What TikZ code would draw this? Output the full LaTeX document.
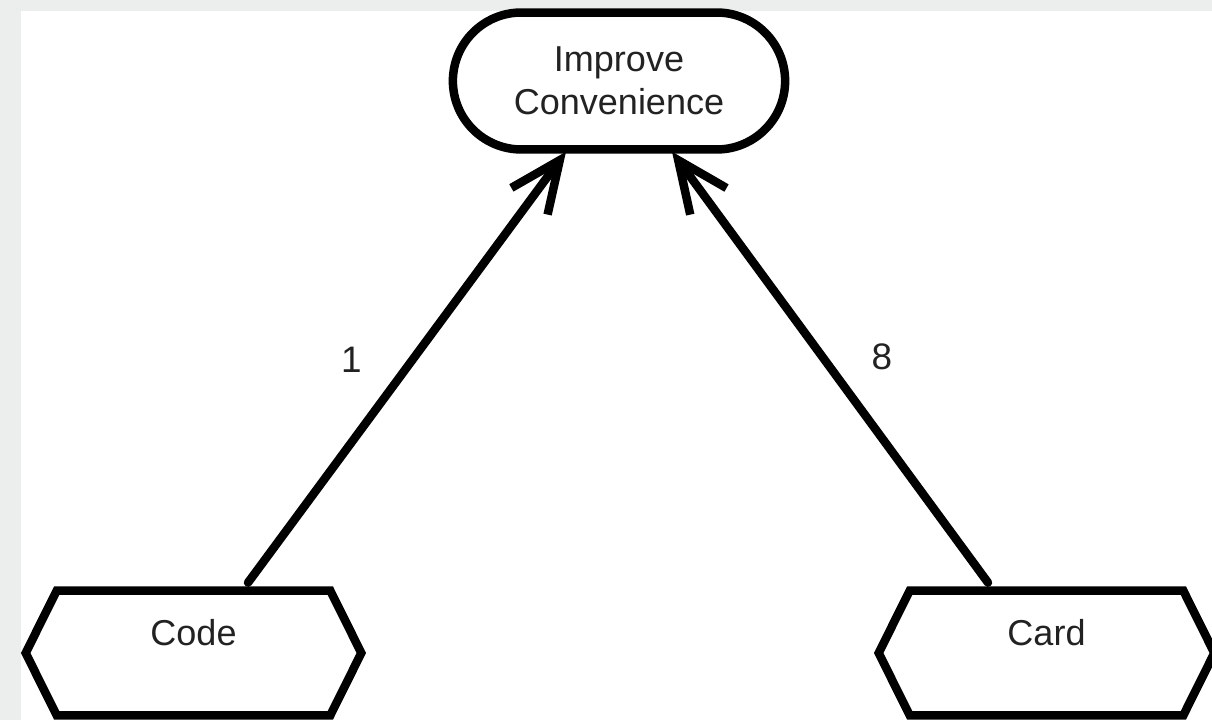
\documentclass[tikz,border=0pt]{standalone}
\usepackage{fontspec}
\setmainfont{Liberation Sans}
\usetikzlibrary{shapes.misc, arrows.meta}
\definecolor{gridgray}{RGB}{236,238,238}
\definecolor{inkgray}{RGB}{34,34,34}

\begin{document}
\begin{tikzpicture}[x=0.02cm, y=0.02cm, line cap=round, line join=round,
        goalbox/.style={draw, line width=0.17cm, rounded rectangle, minimum width=6.88cm, minimum height=2.74cm, align=center, text=inkgray, font=\fontsize{20.5pt}{24.5pt}\selectfont},
        hexbox/.style={inner sep=0pt, minimum width=6.7cm, minimum height=2.48cm, text height=1.08cm, text depth=1.4cm, text=inkgray, font=\fontsize{20.5pt}{24pt}\selectfont},
        hexline/.style={draw, line width=0.17cm, line join=miter},
        link/.style={line width=0.17cm, -{Straight Barb[length=1.02cm, width=0.9cm]}},
        weight/.style={text=inkgray, font=\fontsize{21pt}{24pt}\selectfont}]
        \useasboundingbox (0, 0) rectangle (1212, 720);
        % draw canvas border
        \fill[gridgray] (0, 0) rectangle (21, 720);
        \fill[gridgray] (0, 709) rectangle (1212, 720);
        % draw goal
        \node[goalbox] (goal) at (619, 639) {Improve\\Convenience};
        % draw options
        \node[hexbox] (code) at (193.5, 67) {Code};
        \draw[hexline] (code.west) -- ([xshift=0.62cm]code.north west) -- ([xshift=-0.62cm]code.north east) -- (code.east) -- ([xshift=-0.62cm]code.south east) -- ([xshift=0.62cm]code.south west) -- cycle;
        \node[hexbox] (card) at (1046.5, 67) {Card};
        \draw[hexline] (card.west) -- ([xshift=0.62cm]card.north west) -- ([xshift=-0.62cm]card.north east) -- (card.east) -- ([xshift=-0.62cm]card.south east) -- ([xshift=0.62cm]card.south west) -- cycle;
        % draw contributions
        \draw[link] ([shift={(54.5, 8)}]code.north) -- node[weight, pos=0.517, xshift=-1.22cm] (one) {1} ([shift={(-53, 2)}]goal.south);
        \draw[link] ([shift={(-58.5, 8)}]card.north) -- node[weight, pos=0.524, xshift=1.19cm] (eight) {8} ([shift={(53, 2)}]goal.south);
    \end{tikzpicture}
\end{document}
